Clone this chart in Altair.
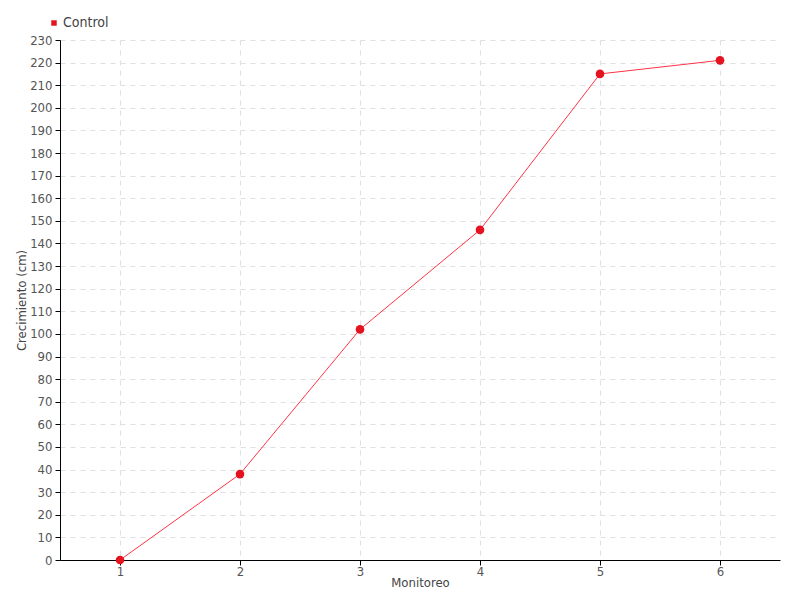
import altair as alt
import pandas as pd

monitoreo = [1, 2, 3, 4, 5, 6]
crecimiento = [0, 38, 102, 146, 215, 221]
serie = ["Control"] * 6

df = pd.DataFrame({"Monitoreo": monitoreo, "Crecimiento": crecimiento, "Serie": serie})

FONT = "DejaVu Sans Condensed"
color_scale = alt.Scale(domain=["Control"], range=["#e3141f"])

x = alt.X("Monitoreo:Q", title="Monitoreo",
          scale=alt.Scale(domain=[0.5, 6.5], nice=False, zero=False),
          axis=alt.Axis(values=monitoreo, format="d", tickSize=5, labelPadding=0,
                        titlePadding=-2, titleFontSize=13, grid=True))
y = alt.Y("Crecimiento:Q", title="Crecimiento (cm)",
          scale=alt.Scale(domain=[0, 230], nice=False),
          axis=alt.Axis(values=list(range(0, 231, 10)), tickSize=5, labelPadding=3,
                        titlePadding=1, titleFontSize=13, grid=True))

line = alt.Chart(df).mark_line(strokeWidth=1, color="#ff3344").encode(x=x, y=y, detail="Serie:N")
points = alt.Chart(df).mark_point(filled=True, size=75, opacity=1, shape="circle").encode(
    x=x, y=y,
    color=alt.Color("Serie:N", scale=color_scale,
                    legend=alt.Legend(title=None, orient="none", legendX=-13, legendY=-24,
                                      symbolType="square", symbolSize=30,
                                      labelFont=FONT, labelFontSize=14, labelColor="#444",
                                      labelOffset=2)),
)

chart = (line + points).properties(
    width=720, height=520,
    autosize=alt.AutoSizeParams(type="none"),
    padding={"left": 52, "top": 32, "right": 12, "bottom": 30},
).configure_view(stroke=None).configure_axis(
    domainColor="#000", tickColor="#000", gridColor="#e0e0e0", gridDash=[5, 5],
    labelFont=FONT, labelFontSize=13, labelColor="#555",
    titleFont=FONT, titleFontSize=14, titleColor="#444", titleFontWeight="normal",
)

chart.save("out.html", embed_options={"renderer": "svg", "actions": False})
